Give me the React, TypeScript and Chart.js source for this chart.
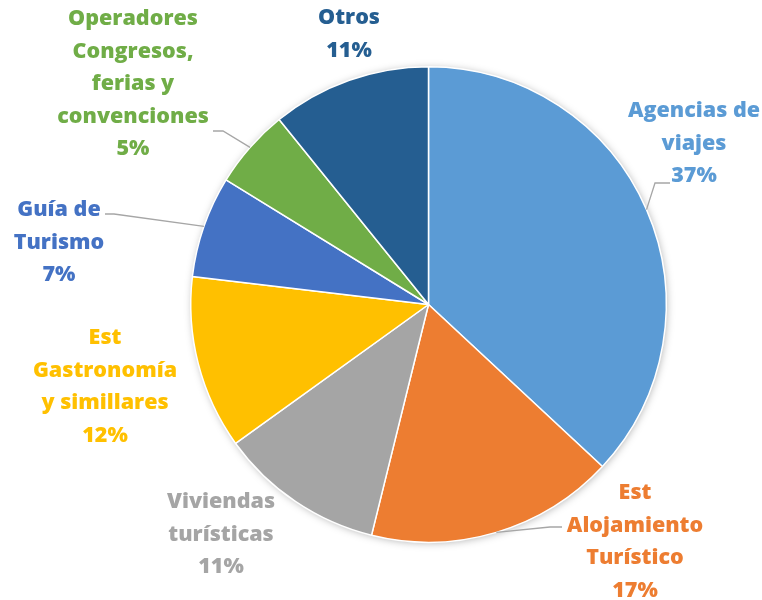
import React, { useEffect, useRef } from "react";
import { Chart, registerables } from "chart.js";

Chart.register(...registerables);

const categories = [
  "Agencias de viajes",
  "Est Alojamiento Turístico",
  "Viviendas turísticas",
  "Est Gastronomía y simillares",
  "Guía de Turismo",
  "Operadores Congresos, ferias y convenciones",
  "Otros",
];
const values = [36.9, 16.9, 11.2, 11.8, 6.9, 5.4, 10.8];
const colors = ["#5B9BD5", "#ED7D31", "#A5A5A5", "#FFC000", "#4472C4", "#70AD47", "#255E91"];
const labelLines = [
  ["Agencias de", "viajes"],
  ["Est", "Alojamiento", "Turístico"],
  ["Viviendas", "turísticas"],
  ["Est", "Gastronomía", "y simillares"],
  ["Guía de", "Turismo"],
  ["Operadores", "Congresos,", "ferias y", "convenciones"],
  ["Otros"],
];

// label layout: center x, first-line middle y
const labelPos = [
  [694, 111],
  [635, 493],
  [221, 502],
  [105, 338],
  [59, 210],
  [133, 19],
  [349, 18],
];
// leader line points after the arc edge (null = no line)
const leaders: (number[][] | null)[] = [
  [[655, 183], [670, 183]],
  [[550, 527], [562, 527]],
  null,
  null,
  [[114, 214], [105, 214]],
  [[223, 131], [213, 131]],
  null,
];

const LINE_H = 32.5;
const FONT = "800 21.5px 'Open Sans'";

const shadowPlugin = {
  id: "pieShadow",
  beforeDatasetsDraw(chart: any) {
    const meta = chart.getDatasetMeta(0);
    const arc = meta.data[0];
    if (!arc) return;
    const { x, y, outerRadius } = arc.getProps(["x", "y", "outerRadius"], true);
    const ctx = chart.ctx;
    ctx.save();
    ctx.shadowColor = "rgba(0,0,0,0.35)";
    ctx.shadowBlur = 8;
    ctx.shadowOffsetX = 1;
    ctx.shadowOffsetY = 1;
    ctx.fillStyle = "#ffffff";
    ctx.beginPath();
    ctx.arc(x, y, outerRadius - 1, 0, Math.PI * 2);
    ctx.fill();
    ctx.restore();
  },
};

const labelPlugin = {
  id: "outLabels",
  afterDatasetsDraw(chart: any) {
    const ctx = chart.ctx;
    const meta = chart.getDatasetMeta(0);
    const data = chart.data.datasets[0].data as number[];
    const total = data.reduce((a, b) => a + b, 0);
    ctx.save();
    meta.data.forEach((el: any, i: number) => {
      const { x, y, startAngle, endAngle, outerRadius } = el.getProps(
        ["x", "y", "startAngle", "endAngle", "outerRadius"],
        true
      );
      const mid = (startAngle + endAngle) / 2;
      const lead = leaders[i];
      if (lead) {
        ctx.beginPath();
        ctx.strokeStyle = "#A6A6A6";
        ctx.lineWidth = 1.3;
        ctx.moveTo(x + Math.cos(mid) * outerRadius, y + Math.sin(mid) * outerRadius);
        lead.forEach((p) => ctx.lineTo(p[0], p[1]));
        ctx.stroke();
      }
      const pct = Math.round((data[i] / total) * 100) + "%";
      const lines = [...labelLines[i], pct];
      ctx.fillStyle = colors[i];
      ctx.font = FONT;
      ctx.textAlign = "center";
      ctx.textBaseline = "middle";
      const [lx, ly] = labelPos[i];
      lines.forEach((t, k) => ctx.fillText(t, lx, ly + k * LINE_H));
    });
    ctx.restore();
  },
};

export default function App() {
  const ref = useRef<HTMLCanvasElement | null>(null);
  useEffect(() => {
    if (!ref.current) return;
    const chart = new Chart(ref.current, {
      type: "pie",
      data: {
        labels: categories,
        datasets: [
          {
            data: values,
            backgroundColor: colors,
            borderColor: "#ffffff",
            borderWidth: 1.5,
          },
        ],
      },
      options: {
        responsive: false,
        animation: false,
        layout: { padding: { top: 66, bottom: 57, left: 190, right: 95 } },
        plugins: {
          legend: { display: false },
          tooltip: { enabled: false },
        },
      },
      plugins: [shadowPlugin, labelPlugin],
    });
    return () => chart.destroy();
  }, []);
  return (
    <div style={{ position: "fixed", left: 0, top: 0, width: 762, height: 600, background: "#fff" }}>
      <canvas ref={ref} width={762} height={600} style={{ width: 762, height: 600 }} />
    </div>
  );
}
